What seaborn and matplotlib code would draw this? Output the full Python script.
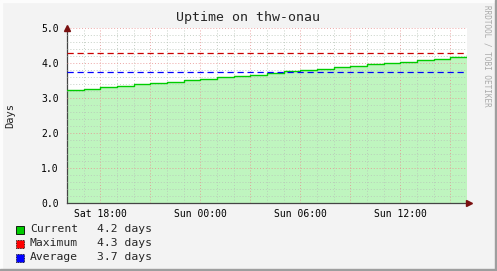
import matplotlib
matplotlib.use("Agg")
import matplotlib.pyplot as plt
import seaborn as sns
import pandas as pd
import numpy as np
from matplotlib.patches import Rectangle

# ---- data ----
hours = list(range(0, 25))  # hours since Sat 16:00
uptime_days = [3.23, 3.27, 3.31, 3.35, 3.39, 3.43, 3.47, 3.51, 3.55, 3.59,
               3.63, 3.67, 3.72, 3.76, 3.80, 3.84, 3.88, 3.92, 3.96, 4.00,
               4.04, 4.08, 4.12, 4.17, 4.22]
maximum_days = 4.28
average_days = 3.73
current_days = 4.22
xtick_pos = [2, 8, 14, 20]
xtick_labels = ["Sat 18:00", "Sun 00:00", "Sun 06:00", "Sun 12:00"]
ytick_vals = [0.0, 1.0, 2.0, 3.0, 4.0, 5.0]
legend_names = ["Current", "Maximum", "Average"]
legend_vals = [current_days, maximum_days, average_days]
legend_colors = ["#00cc00", "#ff0000", "#0000ff"]
title = "Uptime on thw-onau"

df = pd.DataFrame({"hour": hours, "days": uptime_days})

sns.set_style("white")
plt.rcParams["font.family"] = ["DejaVu Sans Mono"]

W, H = 497, 271
fig = plt.figure(figsize=(W / 100, H / 100), dpi=100)
fig.patch.set_facecolor("#f3f3f3")

# frame border (3D look)
fig.patches.append(Rectangle((0, 0), 2 / W, 1, transform=fig.transFigure, color="#fcfcfc", zorder=0))
fig.patches.append(Rectangle((0, 1 - 2 / H), 1, 2 / H, transform=fig.transFigure, color="#fcfcfc", zorder=0))
fig.patches.append(Rectangle((1 - 2 / W, 0), 2 / W, 1, transform=fig.transFigure, color="#9e9e9e", zorder=0))
fig.patches.append(Rectangle((0, 0), 1, 2 / H, transform=fig.transFigure, color="#9e9e9e", zorder=0))

x0, x1, y0, y1 = 67, 467, 28, 203
ax = fig.add_axes([x0 / W, 1 - y1 / H, (x1 - x0) / W, (y1 - y0) / H])
ax.set_facecolor("white")

ax.set_xlim(0, 24)
ax.set_ylim(0, 5)

ax.fill_between(df["hour"], df["days"], step="post", color="#bff5bf", lw=0, zorder=2)
sns.lineplot(data=df, x="hour", y="days", ax=ax, color="#00cc00", lw=1.0,
             drawstyle="steps-post", zorder=4)

# grid (dotted, drawn above the area like rrdtool)
for hx in np.arange(1, 24, 1):
    major = (hx - 2) % 3 == 0
    ax.axvline(hx, color="#e89090" if major else "#b8c4b8", lw=0.7,
               ls=(0, (1, 2)), zorder=3, alpha=0.8)
for yv in np.arange(0.2, 5.01, 0.2):
    major = abs(yv - round(yv)) < 1e-6
    ax.axhline(yv, color="#e89090" if major else "#b8c4b8", lw=0.7,
               ls=(0, (1, 2)), zorder=3, alpha=0.8)

ax.axhline(maximum_days, color="#cc0000", lw=0.9, ls=(0, (5, 3)), zorder=5)
ax.axhline(average_days, color="#0000ff", lw=0.9, ls=(0, (5, 3)), zorder=5)

for s in ["top", "right"]:
    ax.spines[s].set_visible(False)
for s in ["left", "bottom"]:
    ax.spines[s].set_color("#444444")
    ax.spines[s].set_linewidth(0.9)

ax.set_xticks(xtick_pos)
ax.set_xticklabels(xtick_labels)
ax.set_yticks(ytick_vals)
ax.set_yticklabels([f"{v:.1f}" for v in ytick_vals])
ax.tick_params(axis="both", length=2, width=0.7, colors="#444444", labelsize=7,
               labelcolor="black")
ax.tick_params(axis="y", pad=4)
ax.tick_params(axis="x", pad=2)
ax.set_xlabel("")
ax.set_ylabel("")

# arrows
ax.plot([0], [5.0], marker="^", color="#7a1010", ms=5, clip_on=False, zorder=6)
ax.plot([24.15], [0], marker=">", color="#7a1010", ms=5, clip_on=False, zorder=6)
ax.plot([24, 24.15], [0, 0], color="#444444", lw=0.9, clip_on=False)

fig.text(248 / W, 1 - 18 / H, title, ha="center", va="center", fontsize=9.5)
fig.text(10 / W, 1 - 115 / H, "Days", rotation=90, ha="center", va="center", fontsize=7.5)
fig.text(487 / W, 1 - 5 / H, "RRDTOOL / TOBI OETIKER", rotation=270, ha="center",
         va="top", fontsize=5.5, color="#aaaaaa")

for i, (n, v, c) in enumerate(zip(legend_names, legend_vals, legend_colors)):
    yc = 229 + i * 14
    fig.patches.append(Rectangle((16 / W, 1 - (yc + 4.5) / H), 8 / W, 8 / H,
                                 transform=fig.transFigure, facecolor=c,
                                 edgecolor="black", lw=0.6,
                                 ls="-" if i == 0 else (0, (1, 1))))
    fig.text(30 / W, 1 - yc / H, n, ha="left", va="center", fontsize=8.2)
    fig.text(97 / W, 1 - yc / H, f"{v:.1f} days", ha="left", va="center", fontsize=8.2)

fig.savefig("out.png", dpi=100, facecolor=fig.get_facecolor())
